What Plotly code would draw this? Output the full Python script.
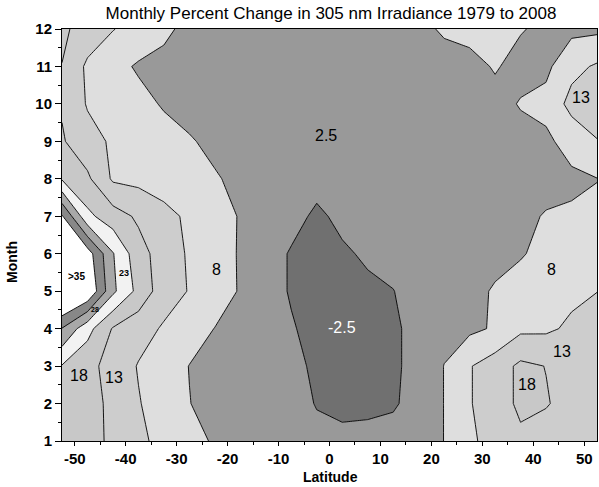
import plotly.graph_objects as go

latitudes = [-52.5, -47.5, -42.5, -37.5, -32.5, -27.5, -22.5, -17.5, -12.5, -7.5, -2.5,
             2.5, 7.5, 12.5, 17.5, 22.5, 27.5, 32.5, 37.5, 42.5, 47.5, 52.5]
months = [1, 2, 3, 4, 5, 6, 7, 8, 9, 10, 11, 12]

# percent change per month row (values across latitudes)
m1 = [18.5, 16.5, 14.2, 11.0, 8.6, 6.5, 4.5, 3.5, 3.0, 2.0, 1.0, 0.8, 0.8, 1.0, 3.0, 5.05, 9.3, 11.5, 14.0, 13.0, 12.5, 12.0]
m2 = [18.8, 17.1, 13.7, 10.3, 7.6, 5.1, 3.5, 2.8, 2.2, 1.5, -0.2, -0.8, -0.6, -0.3, 1.0, 5.1, 9.7, 12.5, 16.0, 15.3, 13.5, 12.5]
m3 = [19.7, 16.5, 13.1, 9.7, 7.3, 4.9, 3.5, 2.8, 2.2, 1.2, -0.8, -1.5, -1.2, -0.5, 1.0, 5.1, 9.7, 12.5, 16.0, 14.9, 13.5, 12.5]
m4 = [29.8, 21.7, 14.6, 12.0, 9.45, 7.2, 4.9, 3.5, 2.5, 0.4, -1.5, -2.0, -1.5, -0.5, 1.0, 3.5, 4.0, 5.5, 9.0, 9.2, 10.8, 11.5]
m5 = [45.0, 40.0, 26.0, 18.5, 12.25, 9.75, 7.5, 4.6, 2.0, -0.4, -2.0, -1.5, -0.8, -0.1, 1.8, 3.0, 3.5, 5.5, 7.0, 8.0, 9.0, 9.95]
m6 = [45.0, 37.5, 25.3, 16.9, 12.7, 9.4, 7.1, 4.6, 2.0, -0.4, -1.5, -0.6, 0.6, 1.5, 2.5, 3.0, 3.2, 3.5, 4.6, 6.4, 7.5, 8.5]
m7 = [35.5, 21.2, 17.2, 14.2, 11.5, 9.1, 6.9, 4.7, 3.0, 1.5, -0.8, 1.0, 2.0, 2.5, 3.0, 3.0, 3.0, 3.2, 4.0, 5.3, 5.7, 5.9]
m8 = [19.5, 15.9, 9.3, 8.7, 7.6, 6.4, 5.3, 4.2, 3.2, 2.5, 1.5, 2.0, 2.5, 3.0, 3.0, 3.0, 3.0, 3.0, 3.2, 3.5, 4.0, 4.9]
m9 = [15.5, 11.8, 9.3, 8.0, 6.6, 5.3, 4.2, 3.5, 3.2, 3.0, 2.8, 2.8, 3.0, 3.0, 3.0, 3.2, 3.2, 3.3, 3.5, 4.0, 7.0, 9.8]
m10 = [14.5, 9.6, 7.9, 6.3, 4.6, 3.8, 3.6, 3.4, 3.2, 3.0, 3.0, 3.0, 3.0, 3.0, 3.2, 3.3, 3.4, 3.5, 5.3, 6.5, 11.5, 12.5]
m11 = [14.9, 9.1, 6.4, 4.5, 3.8, 3.6, 3.5, 3.4, 3.3, 3.2, 3.2, 3.2, 3.2, 3.3, 3.4, 3.5, 3.5, 5.4, 3.5, 3.9, 8.6, 10.6]
m12 = [15.9, 13.0, 10.2, 8.0, 5.9, 3.8, 3.5, 3.5, 3.5, 3.5, 3.5, 3.5, 3.5, 3.5, 4.0, 5.5, 6.5, 6.5, 5.3, 4.0, 3.8, 4.0]

x_ticks = [-50, -40, -30, -20, -10, 0, 10, 20, 30, 40, 50]
x_tick_text = ["-50", "-40", "-30", "-20", "-10", "0", "10", "20", "30", "40", "50"]
y_ticks = [1, 2, 3, 4, 5, 6, 7, 8, 9, 10, 11, 12]

# region labels: text, latitude, month
label_text = ["2.5", "-2.5", "8", "8", "13", "18", "13", "18", "13", ">35", "23", "28"]
label_lat = [-0.6, 2.5, -22.2, 43.5, 45.7, 38.8, 49.4, -49.2, -42.2, -49.6, -40.4, -46.0]
label_month = [9.15, 4.04, 5.57, 5.57, 3.38, 2.5, 10.16, 2.76, 2.7, 5.38, 5.49, 4.52]

z = [m1, m2, m3, m4, m5, m6, m7, m8, m9, m10, m11, m12]

band_colors = ["#707070", "#999999", "#dedede", "#cdcdcd", "#c8c8c8",
               "#f2f2f2", "#a8a8a8", "#888888", "#ffffff"]
cscale = [[i / 8, c] for i, c in enumerate(band_colors)]

FONT = "Arial, Liberation Sans, sans-serif"

fig = go.Figure(go.Contour(
    x=latitudes, y=months, z=z,
    autocontour=False,
    contours=dict(start=0, end=35, size=5, coloring="fill", showlines=True),
    colorscale=cscale, showscale=False,
    line=dict(color="black", width=0.9, smoothing=0),
    hoverinfo="skip",
))

small = {">35": 10, "23": 9, "28": 7}
for t, la, mo in zip(label_text, label_lat, label_month):
    fig.add_annotation(
        x=la, y=mo, text=t, showarrow=False,
        font=dict(family=FONT, size=small.get(t, 16),
                  color="white" if t == "-2.5" else "black",
                  weight="bold" if t in small else "normal"),
    )

# axis titles placed as paper annotations (paper = plot area)
fig.add_annotation(x=0.501, y=-0.087, xref="paper", yref="paper",
                   xanchor="center", yanchor="middle", showarrow=False,
                   text="Latitude",
                   font=dict(family=FONT, size=14, color="black", weight="bold"))
fig.add_annotation(x=-0.0935, y=0.4345, xref="paper", yref="paper",
                   xanchor="center", yanchor="middle", showarrow=False,
                   text="Month", textangle=-90,
                   font=dict(family=FONT, size=14, color="black", weight="bold"))

axis_common = dict(
    showline=True, linecolor="black", linewidth=1, mirror=True,
    ticks="outside", tickcolor="black", tickwidth=1,
    tickfont=dict(family=FONT, size=15, color="black", weight="bold"),
    showgrid=False, zeroline=False, automargin=False,
)

fig.update_layout(
    width=599, height=487,
    margin=dict(l=62, r=2, t=29, b=46, autoexpand=False),
    paper_bgcolor="white", plot_bgcolor="white",
    title=dict(text="Monthly Percent Change in 305 nm Irradiance 1979 to 2008",
               x=331 / 599, xanchor="center", y=1 - 13 / 487, yanchor="middle",
               font=dict(family=FONT, size=17, color="black")),
    xaxis=dict(range=[-52.5, 52.5], tickvals=x_ticks, ticktext=x_tick_text, ticklen=4,
               minor=dict(ticks="outside", dtick=5, tick0=0, ticklen=3, tickcolor="black"),
               **axis_common),
    yaxis=dict(range=[1, 12], tickvals=y_ticks, ticklen=6,
               minor=dict(ticks="outside", dtick=0.5, tick0=0, ticklen=3, tickcolor="black"),
               **axis_common),
)

fig.write_html("out.html", config={"displayModeBar": False},
               post_script="document.body.style.margin='0';document.body.style.overflow='hidden';")
